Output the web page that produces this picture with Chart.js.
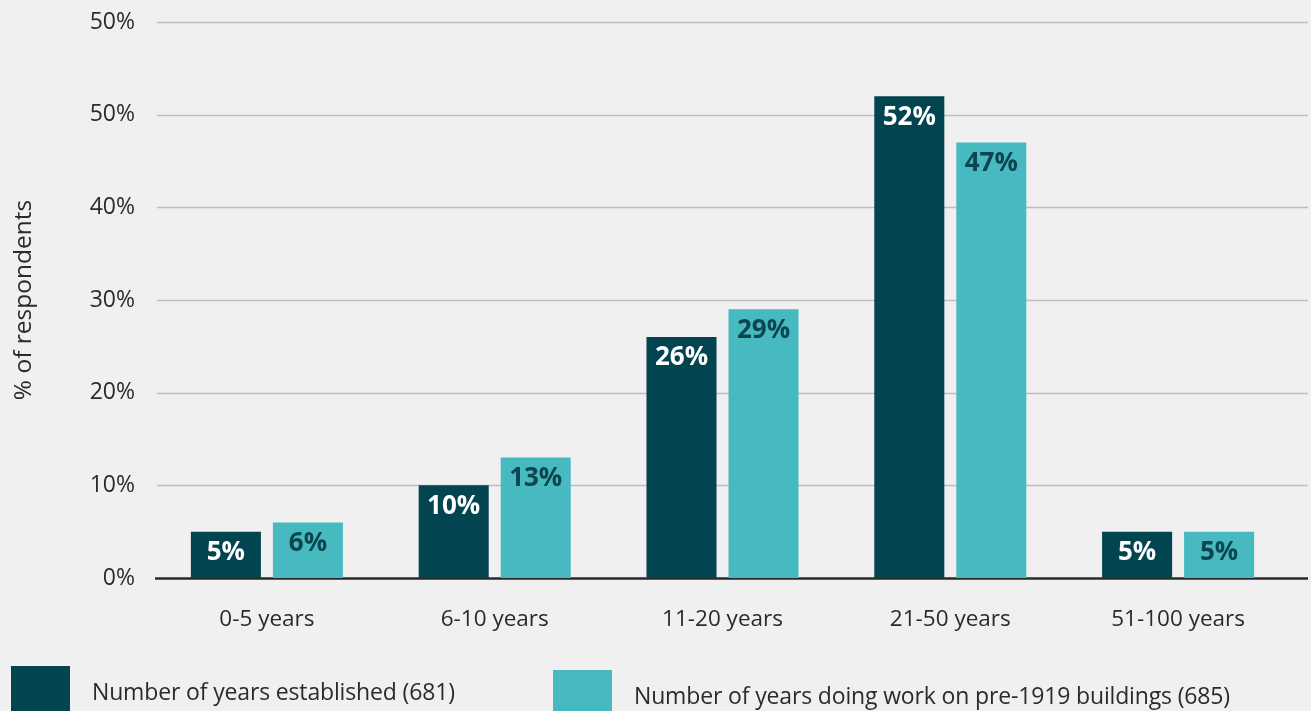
<!DOCTYPE html>
<html>
<head>
<meta charset="utf-8">
<script src="https://cdn.jsdelivr.net/npm/chart.js@4/dist/chart.umd.min.js"></script>
<style>
  body { margin: 0; background: #f0f0f0; font-family: 'Open Sans', sans-serif; }
  #wrap { position: relative; width: 1311px; height: 711px; overflow: hidden; }
  .key { position: absolute; display: flex; align-items: center; color: #2b2b2b; font-size: 23px; letter-spacing: -0.15px; }
  .key span.box { width: 59px; height: 50px; margin-right: 22px; }
</style>
</head>
<body>
<div id="wrap">
  <canvas id="my-chart" width="1311" height="711"></canvas>
</div>
<script>
let categories = ['0-5 years', '6-10 years', '11-20 years', '21-50 years', '51-100 years'];
let established = [5, 10, 26, 52, 5];
let pre1919 = [6, 13, 29, 47, 5];
let tickLabels = ['0%', '10%', '20%', '30%', '40%', '50%', '50%'];
let seriesNames = ['Number of years established (681)', 'Number of years doing work on pre-1919 buildings (685)'];

let darkTeal = '#02444f';
let lightTeal = '#47b9c1';

// horizontal lines run a bit past the plot on both sides
let gridPlugin = {
  id: 'grid',
  beforeDatasetsDraw(chart) {
    let ctx = chart.ctx;
    let y = chart.scales.y;
    ctx.save();
    y.ticks.forEach(function (t) {
      let py = Math.round(y.getPixelForValue(t.value)) + 0.5;
      ctx.beginPath();
      if (t.value === 0) {
        ctx.strokeStyle = '#2a2a2a';
        ctx.lineWidth = 2.5;
        ctx.moveTo(155, py);
      } else {
        ctx.strokeStyle = '#bdbdbd';
        ctx.lineWidth = 1.5;
        ctx.moveTo(157, py);
      }
      ctx.lineTo(1308, py);
      ctx.stroke();
    });
    ctx.restore();
  }
};

// value labels sit inside the top of each bar
let labelPlugin = {
  id: 'barlabels',
  afterDatasetsDraw(chart) {
    let ctx = chart.ctx;
    ctx.save();
    ctx.font = 'bold 26px "Open Sans"';
    ctx.textAlign = 'center';
    ctx.textBaseline = 'middle';
    chart.data.datasets.forEach(function (ds, i) {
      ctx.fillStyle = i === 0 ? '#ffffff' : '#0b4650';
      chart.getDatasetMeta(i).data.forEach(function (bar, j) {
        ctx.fillText(ds.data[j] + '%', bar.x, bar.y + 21);
      });
    });
    ctx.restore();
  }
};

let chartcontext = document.getElementById('my-chart').getContext('2d');

let chartConfig = {
  type: 'bar',
  data: {
    labels: categories,
    datasets: [{
      label: seriesNames[0],
      data: established,
      backgroundColor: darkTeal,
      categoryPercentage: 0.72,
      barPercentage: 0.854
    }, {
      label: seriesNames[1],
      data: pre1919,
      backgroundColor: lightTeal,
      categoryPercentage: 0.72,
      barPercentage: 0.854
    }]
  },
  options: {
    responsive: false,
    animation: false,
    layout: { padding: { top: 22, right: 19, bottom: 0, left: 0 } },
    plugins: {
      legend: { display: false },
      tooltip: { enabled: false }
    },
    scales: {
      x: {
        grid: { display: false },
        border: { display: false },
        ticks: { color: '#2b2b2b', font: { family: 'Open Sans', size: 22.5 }, padding: 20 },
        afterFit(scale) { scale.height = 133; }
      },
      y: {
        min: 0,
        max: 60,
        grid: { display: false },
        border: { display: false },
        ticks: {
          stepSize: 10,
          color: '#2b2b2b',
          padding: 10,
          font: { family: 'Open Sans', size: 23 },
          callback: function (v, i) { return tickLabels[i]; }
        },
        title: {
          display: true,
          text: '% of respondents',
          color: '#2b2b2b',
          font: { family: 'Open Sans', size: 24.5 },
          padding: { top: 9, bottom: 0 }
        },
        afterFit(scale) {
          scale.width = 153;
          scale.paddingTop = 0;
          scale.paddingBottom = 0;
        }
      }
    }
  },
  plugins: [gridPlugin, labelPlugin]
};

let mychart = new Chart(chartcontext, chartConfig);

// legend built from the datasets
let wrap = document.getElementById('wrap');
let keySpots = [[11, 666], [553, 670]];
mychart.data.datasets.forEach(function (ds, i) {
  let key = document.createElement('div');
  key.className = 'key';
  key.style.left = keySpots[i][0] + 'px';
  key.style.top = keySpots[i][1] + 'px';
  key.innerHTML = '<span class="box" style="background:' + ds.backgroundColor + '"></span><span>' + ds.label + '</span>';
  wrap.appendChild(key);
});
</script>
</body>
</html>
